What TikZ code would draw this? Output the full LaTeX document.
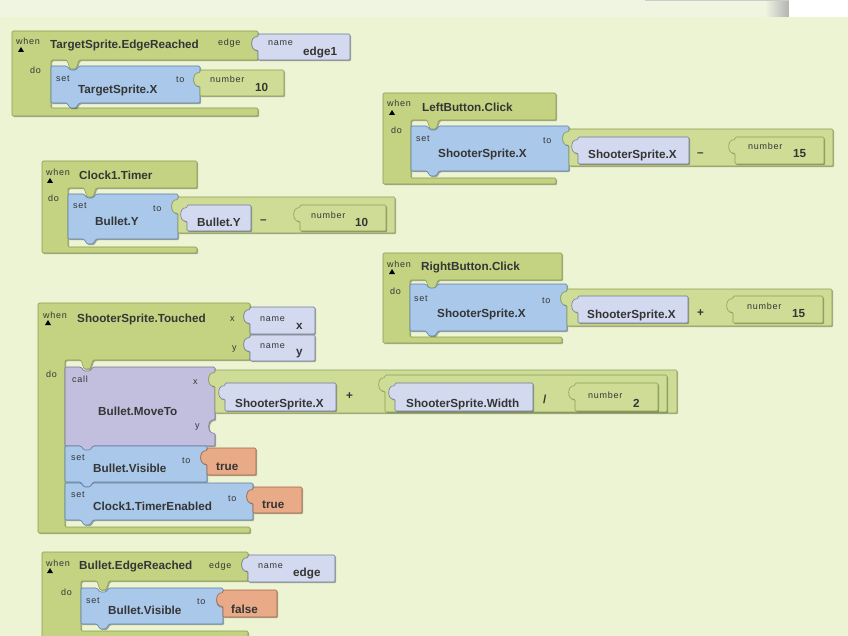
\documentclass[tikz,border=0pt]{standalone}
\usepackage{fontspec}
\setmainfont{Liberation Sans}
\newfontfamily\lblfamily[LetterSpace=8]{Liberation Sans}
\newcommand{\lblfont}{\lblfamily\fontsize{9}{10}\selectfont}
\newcommand{\ttlfont}{\bfseries\fontsize{11.7}{12}\selectfont}

\definecolor{bgc}{HTML}{EDF4D3}
\definecolor{topc}{HTML}{F0F5E1}
\definecolor{evtc}{HTML}{C3D382}
\definecolor{evtd}{HTML}{8C9C50}
\definecolor{mathc}{HTML}{CEDC96}
\definecolor{mathd}{HTML}{8FA055}
\definecolor{setc}{HTML}{A9C8EA}
\definecolor{setd}{HTML}{5F7FA8}
\definecolor{getc}{HTML}{D3D9EE}
\definecolor{getd}{HTML}{717A98}
\definecolor{callc}{HTML}{C2BEDD}
\definecolor{calld}{HTML}{77739A}
\definecolor{boolc}{HTML}{E9AA87}
\definecolor{boold}{HTML}{A0664A}
\definecolor{txt}{HTML}{353535}

% puzzle pieces: socket on a right edge (going down), plug on a left edge (going up)
\newcommand{\sockR}[2]{-- ({#1},{#2}) .. controls ({#1-8},{#2-1}) and ({#1-8},{#2+14}) .. ({#1},{#2+13})}
\newcommand{\plugL}[2]{-- ({#1},{#2+13}) .. controls ({#1-8},{#2+14}) and ({#1-8},{#2-1}) .. ({#1},{#2})}
% event block: x0,y0,xr,yh,xc,yb,ybot,sockets
\newcommand{\evtblock}[8]{\path[evt] ({#1},{#2}) -- ({#3},{#2}) #8 -- ({#3},{#4})
  -- ({#5+28},{#4}) -- ({#5+25},{#4+9}) -- ({#5+19},{#4+9}) -- ({#5+16},{#4})
  -- ({#5},{#4}) -- ({#5},{#6}) -- ({#3},{#6}) -- ({#3},{#7}) -- ({#1},{#7}) -- cycle;}
% value block: style,x0,y0,x1,y1,sockets
\newcommand{\valblock}[6]{\path[#1] ({#2},{#3}) -- ({#4},{#3}) #6 -- ({#4},{#5})
  -- ({#2},{#5}) \plugL{#2}{#3+3} -- cycle;}
% statement block: style,x0,y0,x1,y1,sockets
\newcommand{\stmtblock}[6]{\path[#1] ({#2},{#3}) -- ({#2+16},{#3}) -- ({#2+19},{#3+4})
  -- ({#2+25},{#3+4}) -- ({#2+28},{#3}) -- ({#4},{#3}) #6 -- ({#4},{#5})
  -- ({#2+28},{#5}) -- ({#2+25},{#5+5}) -- ({#2+19},{#5+5}) -- ({#2+16},{#5})
  -- ({#2},{#5}) -- cycle;}
\newcommand{\whentri}[2]{\fill[black] ({#1},{#2}) -- ({#1+3},{#2+5}) -- ({#1-3},{#2+5}) -- cycle;}

\begin{document}
\begin{tikzpicture}[x=1pt,y=-1pt,
  blk/.style={rounded corners=1.2pt,line width=0.6pt,
              preaction={fill=black,fill opacity=0.3,
                         transform canvas={xshift=1.2pt,yshift=-1.2pt}}},
  evt/.style={blk,fill=evtc,draw=evtd},
  setb/.style={blk,fill=setc,draw=setd},
  getb/.style={blk,fill=getc,draw=getd},
  mathb/.style={blk,fill=mathc,draw=mathd},
  callb/.style={blk,fill=callc,draw=calld},
  boolb/.style={blk,fill=boolc,draw=boold},
  lbl/.style={font=\lblfont,text=txt,inner sep=0pt,anchor=base west},
  ttl/.style={font=\ttlfont,text=txt,inner sep=0pt,anchor=base west}
]
\useasboundingbox (0,0) rectangle (848,636);
\clip (0,0) rectangle (848,636);
\fill[bgc] (0,0) rectangle (848,636);
\fill[topc] (0,0) rectangle (848,17);
\shade[left color=topc,right color=black!30] (765,0) rectangle (789,17);
\fill[white] (789,0) rectangle (848,17);
\draw[black!20] (645,0.5) -- (789,0.5);

% TargetSprite.EdgeReached
\evtblock{12}{31}{258}{60}{51}{108}{116}{\sockR{258}{37}}
\valblock{getb}{258}{34}{350}{60}{}
\stmtblock{setb}{51}{66}{200}{103}{\sockR{200}{73}}
\valblock{mathb}{200}{70}{284}{96}{}
\node[lbl] (when1) at (16,45) {when};
\whentri{21}{47}
\node[ttl] (evt1) at (50,49) {TargetSprite.EdgeReached};
\node[lbl] (arg1) at (218,46) {edge};
\node[lbl] (nm1) at (268,46) {name};
\node[ttl] (nmv1) at (303,56) {edge1};
\node[lbl] (do1) at (30,74) {do};
\node[lbl] (set1) at (56,82) {set};
\node[ttl] (prop1) at (78,94) {TargetSprite.X};
\node[lbl] (to1) at (176,83) {to};
\node[lbl] (num1) at (210,83) {number};
\node[ttl] (numv1) at (255,92) {10};

% LeftButton.Click
\evtblock{383}{93}{556}{120}{411}{178}{184}{}
\stmtblock{setb}{411}{126}{569}{171}{\sockR{569}{132}}
\valblock{mathb}{569}{129}{833}{166}{}
\valblock{getb}{578}{137}{689}{164}{}
\valblock{mathb}{735}{137}{824}{164}{}
\node[lbl] (when2) at (387,107) {when};
\whentri{392}{110}
\node[ttl] (evt2) at (422,112) {LeftButton.Click};
\node[lbl] (do2) at (391,134) {do};
\node[lbl] (set2) at (416,142) {set};
\node[ttl] (prop2) at (438,158) {ShooterSprite.X};
\node[lbl] (to2) at (543,144) {to};
\node[ttl] (get2) at (588,159) {ShooterSprite.X};
\node[ttl] (op2) at (697,157) {--};
\node[lbl] (num2) at (748,150) {number};
\node[ttl] (numv2) at (793,158) {15};

% Clock1.Timer
\evtblock{42}{161}{197}{188}{68}{247}{253}{}
\stmtblock{setb}{68}{194}{178}{239}{\sockR{178}{200}}
\valblock{mathb}{178}{197}{395}{233}{}
\valblock{getb}{187}{205}{251}{231}{}
\valblock{mathb}{300}{205}{386}{231}{}
\node[lbl] (when3) at (46,176) {when};
\whentri{50}{178}
\node[ttl] (evt3) at (79,180) {Clock1.Timer};
\node[lbl] (do3) at (48,202) {do};
\node[lbl] (set3) at (73,209) {set};
\node[ttl] (prop3) at (95,226) {Bullet.Y};
\node[lbl] (to3) at (153,212) {to};
\node[ttl] (get3) at (197,227) {Bullet.Y};
\node[ttl] (op3) at (260,224) {--};
\node[lbl] (num3) at (311,219) {number};
\node[ttl] (numv3) at (355,227) {10};

% RightButton.Click
\evtblock{383}{253}{562}{280}{410}{337}{343}{}
\stmtblock{setb}{410}{284}{567}{331}{\sockR{567}{292}}
\valblock{mathb}{567}{289}{832}{326}{}
\valblock{getb}{578}{296}{688}{323}{}
\valblock{mathb}{733}{296}{823}{323}{}
\node[lbl] (when4) at (387,267) {when};
\whentri{392}{269}
\node[ttl] (evt4) at (421,270) {RightButton.Click};
\node[lbl] (do4) at (390,294) {do};
\node[lbl] (set4) at (414,301) {set};
\node[ttl] (prop4) at (437,317) {ShooterSprite.X};
\node[lbl] (to4) at (542,303) {to};
\node[ttl] (get4) at (587,318) {ShooterSprite.X};
\node[ttl] (op4) at (697,316) {+};
\node[lbl] (num4) at (747,309) {number};
\node[ttl] (numv4) at (792,317) {15};

% ShooterSprite.Touched
\evtblock{38}{303}{250}{360}{65}{527}{533}{\sockR{250}{310}\sockR{250}{338}}
\valblock{getb}{250}{307}{315}{334}{}
\valblock{getb}{250}{335}{315}{361}{}
\stmtblock{callb}{65}{367}{215}{446}{\sockR{215}{373}\sockR{215}{420}}
\valblock{mathb}{215}{370}{677}{413}{}
\valblock{getb}{225}{383}{336}{411}{}
\valblock{mathb}{385}{375}{667}{412}{}
\valblock{getb}{395}{383}{533}{411}{}
\valblock{mathb}{575}{383}{658}{411}{}
\stmtblock{setb}{65}{446}{207}{482}{\sockR{207}{451}}
\valblock{boolb}{207}{448}{256}{475}{}
\stmtblock{setb}{65}{483}{253}{520}{\sockR{253}{490}}
\valblock{boolb}{253}{487}{302}{513}{}
\node[lbl] (when5) at (43,318) {when};
\whentri{48}{320}
\node[ttl] (evt5) at (77,322) {ShooterSprite.Touched};
\node[lbl] (argx5) at (230,321) {x};
\node[lbl] (argy5) at (232,350) {y};
\node[lbl] (nmx5) at (260,321) {name};
\node[ttl] (nmxv5) at (296,329) {x};
\node[lbl] (nmy5) at (260,348) {name};
\node[ttl] (nmyv5) at (296,355) {y};
\node[lbl] (do5) at (46,377) {do};
\node[lbl] (call5) at (72,382) {call};
\node[ttl] (proc5) at (98,415) {Bullet.MoveTo};
\node[lbl] (px5) at (193,384) {x};
\node[lbl] (py5) at (195,428) {y};
\node[ttl] (get5) at (235,407) {ShooterSprite.X};
\node[ttl] (op5) at (346,399) {+};
\node[ttl] (getw5) at (406,407) {ShooterSprite.Width};
\node[ttl] (div5) at (543,403) {/};
\node[lbl] (num5) at (588,398) {number};
\node[ttl] (numv5) at (633,407) {2};
\node[lbl] (setv5) at (71,460) {set};
\node[ttl] (vis5) at (93,472) {Bullet.Visible};
\node[lbl] (tov5) at (182,463) {to};
\node[ttl] (true5) at (216,470) {true};
\node[lbl] (sett5) at (71,497) {set};
\node[ttl] (tim5) at (93,510) {Clock1.TimerEnabled};
\node[lbl] (tot5) at (228,501) {to};
\node[ttl] (truet5) at (262,508) {true};

% Bullet.EdgeReached
\evtblock{42}{552}{248}{581}{81}{631}{645}{\sockR{248}{558}}
\valblock{getb}{248}{555}{335}{582}{}
\stmtblock{setb}{81}{588}{223}{624}{\sockR{223}{594}}
\valblock{boolb}{223}{590}{277}{617}{}
\node[lbl] (when6) at (46,566) {when};
\whentri{50}{568}
\node[ttl] (evt6) at (79,569) {Bullet.EdgeReached};
\node[lbl] (arg6) at (209,568) {edge};
\node[lbl] (nm6) at (258,568) {name};
\node[ttl] (nmv6) at (293,576) {edge};
\node[lbl] (do6) at (61,595) {do};
\node[lbl] (set6) at (86,603) {set};
\node[ttl] (prop6) at (108,614) {Bullet.Visible};
\node[lbl] (to6) at (197,604) {to};
\node[ttl] (false6) at (231,613) {false};
\end{tikzpicture}
\end{document}
